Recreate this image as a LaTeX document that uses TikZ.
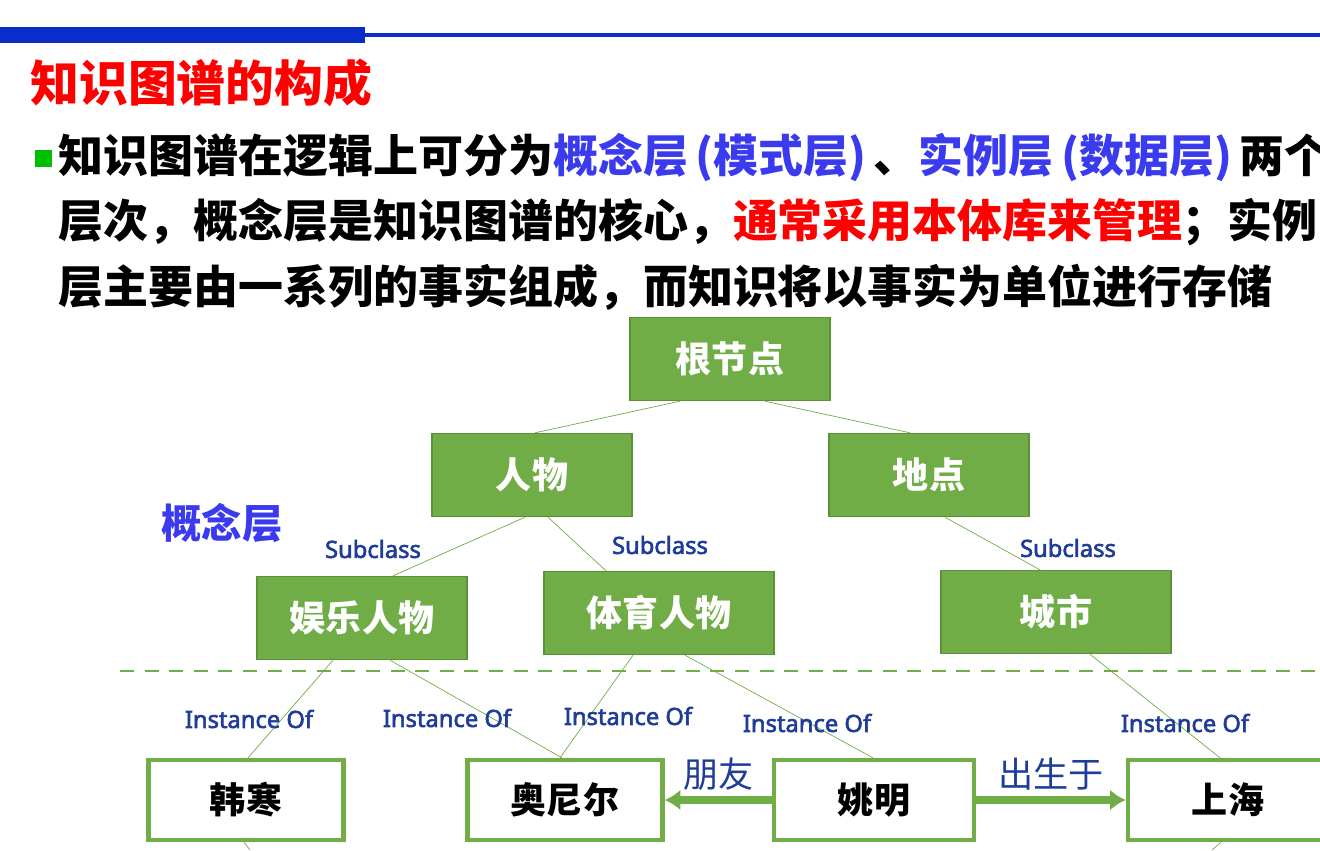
\documentclass[tikz,border=0pt]{standalone}
\usepackage{fontspec}
\setmainfont{Noto Sans CJK SC}
\newfontfamily\cjk{Noto Sans CJK SC}
\newfontfamily\lat{Noto Sans}[FakeBold=2.5]
\definecolor{kgreen}{HTML}{70AD47}
\definecolor{kdark}{HTML}{5B9236}
\definecolor{kblue}{HTML}{0A2CCB}
\definecolor{lblue}{HTML}{3A3AEE}
\definecolor{tblue}{HTML}{1F3C99}
\tikzset{
  concept/.style={draw=kdark,fill=kgreen,thick,minimum width=4cm,minimum height=1.66cm,
    text=white,font=\cjk\fontsize{20.5}{20.5}\selectfont\bfseries},
  inst/.style={draw=kgreen,fill=white,line width=2.5pt,minimum width=3.9cm,minimum height=1.6cm,
    font=\cjk\fontsize{20.5}{20.5}\selectfont\bfseries},
  link/.style={draw=kgreen,thin},
  rel/.style={kgreen,line width=4pt,-{Latex[length=9pt,width=12pt]}},
  lbl/.style={text=tblue,font=\lat\fontsize{13.5}{13.5}\selectfont\bfseries},
  para/.style={anchor=west,inner sep=0,font=\cjk\fontsize{25.6}{25.6}\selectfont\bfseries}
}
\usetikzlibrary{arrows.meta}
\begin{document}
\begin{tikzpicture}[x=0.02cm,y=-0.02cm]
	\useasboundingbox (0,0) rectangle (1320,850);
	% header bars
	\fill[kblue] (0,27) rectangle (365,43);
	\fill[kblue] (365,33) rectangle (1320,37);
	\node [anchor=west,inner sep=0,text=red,font=\cjk\fontsize{27.8}{27.8}\selectfont\bfseries] (title) at (30,83) {知识图谱的构成};
	\fill[green!75!black] (35,150) rectangle (52,167);
	\node [para] (line1) at (58,158) {知识图谱在逻辑上可分为\textcolor{lblue}{概念层\,(模式层)\,}、\textcolor{lblue}{实例层\,(数据层)\,}两个};
	\node [para] (line2) at (58,222) {层次，概念层是知识图谱的核心，\textcolor{red}{通常采用本体库来管理}；实例};
	\node [para] (line3) at (58,287) {层主要由一系列的事实组成，而知识将以事实为单位进行存储};
	\node [text=lblue,font=\cjk\fontsize{23}{23}\selectfont\bfseries] (layer) at (222,523) {概念层};

	% concept layer
	\node [concept] (root) at (730,359) {根节点};
	\node [concept] (person) at (532,475) {人物};
	\node [concept] (place) at (929,475) {地点};
	\node [concept,minimum width=4.2cm] (star) at (362,618) {娱乐人物};
	\node [concept,minimum width=4.6cm] (sport) at (659,613) {体育人物};
	\node [concept,minimum width=4.6cm] (city) at (1056,612) {城市};

	\draw [kgreen,dashed,line width=1.5pt,dash pattern=on 8pt off 6pt] (120,671) -- (1320,671);

	% instance layer
	\node [inst] (hanhan) at (246,800) {韩寒};
	\node [inst] (oneal) at (565,800) {奥尼尔};
	\node [inst,minimum width=4cm] (yao) at (874,800) {姚明};
	\node [inst,minimum width=4cm] (shanghai) at (1228,800) {上海};
	\coordinate (hanhan end) at (250,850);
	\coordinate (shanghai end) at (1212,850);

	\draw [link] ([xshift=-1cm]root.south) -- ([xshift=0.06cm]person.north);
	\draw [link] ([xshift=0.7cm]root.south) -- ([xshift=-0.38cm]place.north);
	\draw [link] ([xshift=-0.14cm]person.south) -- ([xshift=0.62cm]star.north);
	\draw [link] ([xshift=0.32cm]person.south) -- ([xshift=-1.06cm]sport.north);
	\draw [link] ([xshift=0.32cm]place.south) -- ([xshift=-0.32cm]city.north);
	\draw [link] ([xshift=-0.58cm]star.south) -- ([xshift=0.04cm]hanhan.north);
	\draw [link] ([xshift=0.56cm]star.south) -- ([xshift=-0.06cm]oneal.north);
	\draw [link] ([xshift=-0.52cm]sport.south) -- ([xshift=-0.1cm]oneal.north);
	\draw [link] ([xshift=0.52cm]sport.south) -- ([xshift=-0.02cm]yao.north);
	\draw [link] ([xshift=0.68cm]city.south) -- ([xshift=-0.16cm]shanghai.north);
	\draw [link] ([xshift=-0.04cm]hanhan.south) -- (hanhan end);
	\draw [link] ([xshift=-0.14cm]shanghai.south) -- (shanghai end);

	\draw [rel] (yao) -- node [above,text=tblue,font=\cjk\fontsize{20}{20}\selectfont] (friend) {朋友} (oneal);
	\draw [rel] (yao) -- node [above,text=tblue,font=\cjk\fontsize{20}{20}\selectfont] (born) {出生于} (shanghai);

	% edge labels
	\node [lbl] (sub1) at (373,549) {Subclass};
	\node [lbl] (sub2) at (660,545) {Subclass};
	\node [lbl] (sub3) at (1068,548) {Subclass};
	\node [lbl] (io1) at (249,719) {Instance Of};
	\node [lbl] (io2) at (447,718) {Instance Of};
	\node [lbl] (io3) at (628,716) {Instance Of};
	\node [lbl] (io4) at (807,723) {Instance Of};
	\node [lbl] (io5) at (1185,723) {Instance Of};
\end{tikzpicture}
\end{document}
